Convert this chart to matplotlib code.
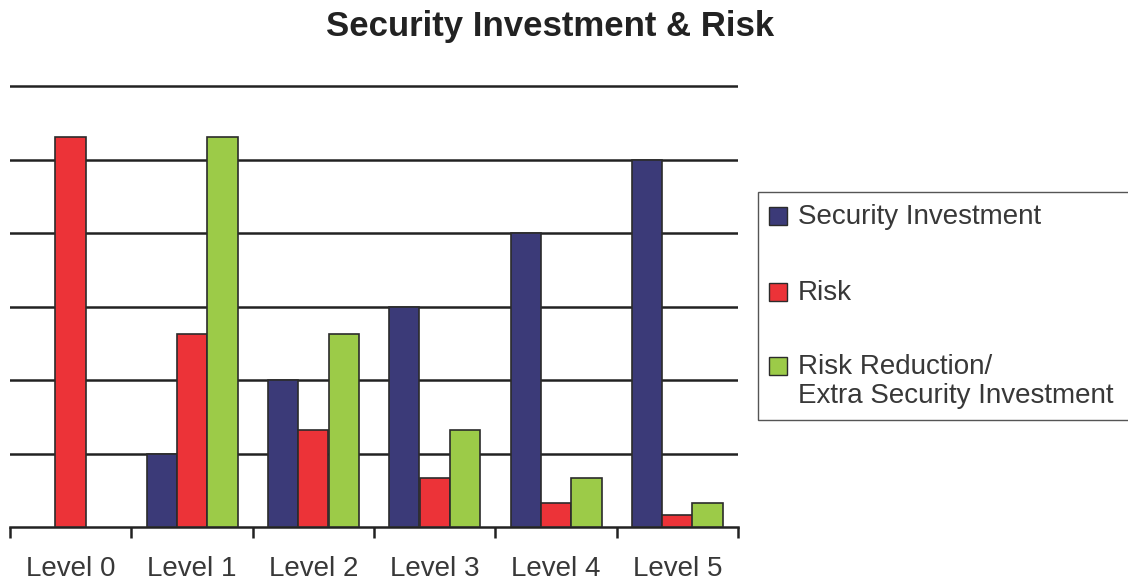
import matplotlib.pyplot as plt
from matplotlib.patches import Rectangle
import numpy as np

plt.rcParams['font.family'] = ['Liberation Sans', 'DejaVu Sans']

# Data
levels = ['Level 0', 'Level 1', 'Level 2', 'Level 3', 'Level 4', 'Level 5']
security_investment = [0, 1.0, 2.0, 3.0, 4.0, 5.0]
risk = [5.3, 2.63, 1.32, 0.66, 0.33, 0.16]
risk_reduction = [0, 5.3, 2.63, 1.32, 0.66, 0.33]

series_names = ['Security Investment', 'Risk', 'Risk Reduction/\nExtra Security Investment']
colors = ['#3b3a78', '#ec3338', '#9ccb48']

W, H = 1128, 583
fig = plt.figure(figsize=(W / 100, H / 100), dpi=100)
ytop = 6.03
ax = fig.add_axes([10 / W, 1 - 527 / H, 728 / W, 441 / H * ytop / 6])

x = np.arange(len(levels))
bw = 0.25
edge = '#2b2b2b'
for i, vals in enumerate([security_investment, risk, risk_reduction]):
    vals = np.array(vals)
    keep = vals > 0  # empty slots at Level 0 are not drawn
    ax.bar(x[keep] + (i - 1) * bw, vals[keep], bw, color=colors[i],
           edgecolor=edge, linewidth=1.2, zorder=3)

ax.set_xlim(-0.5, len(levels) - 0.5)
ax.set_ylim(0, ytop)
ax.set_yticks(range(1, 7))
ax.set_yticklabels([])
ax.tick_params(axis='y', length=0)
ax.yaxis.grid(True, color='#222222', linewidth=1.8)
ax.set_axisbelow(True)

for s in ['left', 'right', 'top']:
    ax.spines[s].set_visible(False)
ax.spines['bottom'].set_linewidth(1.8)
ax.spines['bottom'].set_color('#222222')

ax.set_xticks(x)
ax.set_xticklabels(levels, fontsize=20, color='#383838')
ax.set_xticks(np.arange(-0.5, len(levels), 1.0), minor=True)
ax.tick_params(axis='x', which='major', length=0, pad=21)
ax.tick_params(axis='x', which='minor', length=8, width=1.8, color='#222222',
               direction='out')

fig.text(550 / W, 1 - 36 / H, 'Security Investment & Risk', fontsize=25,
         fontweight='bold', color='#222222', ha='center', va='baseline')

# legend box (runs off the right edge as in the reference)
fig.add_artist(Rectangle((758 / W, 1 - 420 / H), 390 / W, 228 / H,
                         transform=fig.transFigure, facecolor='white',
                         edgecolor='#555555', linewidth=1.0))
rows = [216, 292, 366]
for name, c, yc in zip(series_names, colors, rows):
    fig.add_artist(Rectangle((769 / W, 1 - (yc + 9) / H), 18 / W, 18 / H,
                             transform=fig.transFigure, facecolor=c,
                             edgecolor=edge, linewidth=1.0))
    fig.text(798 / W, 1 - (yc - 12) / H, name, fontsize=20, color='#383838',
             ha='left', va='top', linespacing=1.15)

fig.savefig('out.png', dpi=100)
